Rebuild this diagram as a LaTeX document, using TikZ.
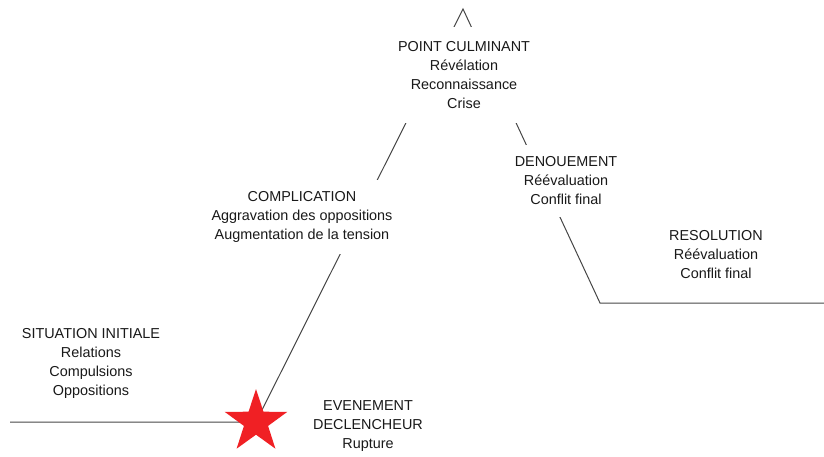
\documentclass[tikz,border=0pt]{standalone}
\usepackage{fontspec}
\setmainfont{Liberation Sans}
\usepackage{tikz}
\usetikzlibrary{shapes,positioning}
\definecolor{ink}{RGB}{25, 25, 25}
\definecolor{gray}{RGB}{70, 70, 70}
\definecolor{red}{RGB}{240, 32, 36}
\tikzstyle{stage} = [fill=white, text=ink, align=center, inner sep=11pt, font=\fontsize{14.4}{19}\selectfont]
\tikzstyle{burst} = [star, star points=5, star point ratio=2.6, fill=red, draw=none, minimum size=66pt, inner sep=0pt]
\tikzstyle{plot}  = [draw=gray, line width=1pt]

\begin{document}
\begin{tikzpicture}[x=1pt, y=-1pt]
\useasboundingbox (0,0) rectangle (824,457);

% plot line =============================
\coordinate (start) at (10,422);
\coordinate (spark) at (256,422);
\coordinate (apex) at (463,9);
\coordinate (low) at (600,303);
\coordinate (finish) at (824,303);

\draw[plot] (start) -- (spark) -- (apex) -- (low) -- (finish);

\node[burst] (trigger) at (spark) {};

% stages
\node[stage, inner sep=14pt] (culmen) at (464,75) {POINT CULMINANT\\Révélation\\Reconnaissance\\Crise};
\node[stage] (complication) at (302,217) {COMPLICATION\\Aggravation des oppositions\\Augmentation de la tension};
\node[stage, inner sep=12pt] (denouement) at (566,181) {DENOUEMENT\\Réévaluation\\Conflit final};
\node[stage] (resolution) at (716,255) {RESOLUTION\\Réévaluation\\Conflit final};
\node[stage] (initial) at (91,363) {SITUATION INITIALE\\Relations\\Compulsions\\Oppositions};
\node[stage] (event) at (368,426) {EVENEMENT\\DECLENCHEUR\\Rupture};

\end{tikzpicture}
\end{document}
